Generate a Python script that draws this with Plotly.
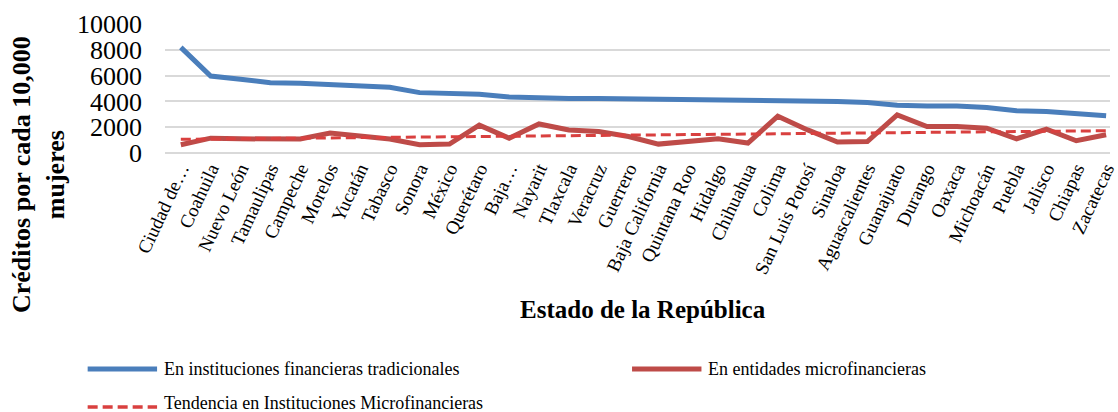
import numpy as np
import plotly.graph_objects as go

# Estados de la República (orden descendente por instituciones tradicionales)
estados = [
    "Ciudad de…", "Coahuila", "Nuevo León", "Tamaulipas", "Campeche", "Morelos",
    "Yucatán", "Tabasco", "Sonora", "México", "Querétaro", "Baja…", "Nayarit",
    "Tlaxcala", "Veracruz", "Guerrero", "Baja California", "Quintana Roo",
    "Hidalgo", "Chihuahua", "Colima", "San Luis Potosí", "Sinaloa",
    "Aguascalientes", "Guanajuato", "Durango", "Oaxaca", "Michoacán", "Puebla",
    "Jalisco", "Chiapas", "Zacatecas",
]

# Créditos por cada 10,000 mujeres
tradicionales = [
    8190, 5970, 5710, 5450, 5400, 5270, 5140, 5100, 4680, 4630, 4560, 4350,
    4270, 4220, 4220, 4200, 4170, 4120, 4120, 4120, 4080, 4080, 4000, 3920,
    3700, 3650, 3650, 3520, 3270, 3210, 3010, 2880,
]
microfinancieras = [
    640, 1150, 1100, 1050, 1080, 1540, 1280, 1080, 640, 690, 2160, 1150,
    2250, 1790, 1660, 1280, 690, 890, 1100, 770, 2850, 1790, 850, 890,
    2950, 2050, 2050, 1920, 1100, 1850, 950, 1410,
]

y_ticks = [0, 2000, 4000, 6000, 8000, 10000]

serif = "Liberation Serif, Times New Roman, serif"
blue = "#4A7EBB"
red = "#BE4B48"
red_trend = "#D9403F"
trend_dash = "10px,5px"

# Tendencia lineal de las entidades microfinancieras
idx = np.arange(len(microfinancieras))
slope, intercept = np.polyfit(idx, microfinancieras, 1)
tendencia = slope * idx + intercept

fig = go.Figure()
fig.add_trace(go.Scatter(
    x=estados, y=tradicionales, mode="lines",
    name="En instituciones financieras tradicionales",
    line=dict(color=blue, width=5),
))
fig.add_trace(go.Scatter(
    x=estados, y=microfinancieras, mode="lines",
    name="En entidades microfinancieras",
    line=dict(color=red, width=5),
))
fig.add_trace(go.Scatter(
    x=estados, y=tendencia, mode="lines",
    name="Tendencia en Instituciones Microfinancieras",
    line=dict(color=red_trend, width=3, dash=trend_dash),
))

W, H = 1118, 412
L, R, T, B = 165, 0, 24, 259
pw, ph = W - L - R, H - T - B


def px_x(p):
    return (p - L) / pw


def px_y(p):
    return (H - B - p) / ph


annotations = [
    dict(text="<b>Créditos por cada 10,000<br>mujeres</b>", textangle=-90,
         xref="paper", yref="paper", x=px_x(37), y=px_y(175),
         xanchor="center", yanchor="middle", showarrow=False, align="center",
         font=dict(family=serif, size=26, color="black")),
    dict(text="<b>Estado de la República</b>",
         xref="paper", yref="paper", x=px_x(647), y=px_y(309),
         xanchor="center", yanchor="middle", showarrow=False,
         font=dict(family=serif, size=25, color="black")),
]

# Leyenda inferior
legend_items = [
    (87, 157, 369, 369, blue, 5, "solid", "En instituciones financieras tradicionales"),
    (636, 706, 369, 369, red, 5, "solid", "En entidades microfinancieras"),
    (87, 157, 407, 403, red_trend, 3.5, trend_dash, "Tendencia en Instituciones Microfinancieras"),
]
shapes = []
for x0, x1, yy, ty, col, w, dash, label in legend_items:
    shapes.append(dict(type="line", xref="paper", yref="paper",
                       x0=px_x(x0), x1=px_x(x1), y0=px_y(yy), y1=px_y(yy),
                       line=dict(color=col, width=w, dash=dash)))
    annotations.append(dict(text=label, xref="paper", yref="paper",
                            x=px_x(x1 + 5), y=px_y(ty), xanchor="left",
                            yanchor="middle", showarrow=False,
                            font=dict(family=serif, size=18, color="black")))

fig.update_layout(
    width=W, height=H,
    margin=dict(l=L, r=R, t=T, b=B),
    paper_bgcolor="white", plot_bgcolor="white",
    showlegend=False,
    annotations=annotations,
    shapes=shapes,
    xaxis=dict(
        range=[-0.53, 31.13], tickangle=-65, showgrid=False,
        showline=False, zeroline=False, ticks="",
        tickfont=dict(family=serif, size=19, color="black"),
    ),
    yaxis=dict(
        range=[0, 10000], tickvals=y_ticks, ticktext=[str(v) for v in y_ticks],
        showgrid=True, gridcolor="#D9D9D9", gridwidth=1.5,
        zeroline=True, zerolinecolor="#D9D9D9", zerolinewidth=1.5,
        showline=False, ticks="", ticklabelstandoff=22,
        tickfont=dict(family=serif, size=26, color="black"),
    ),
)

fig.write_html("out.html")
